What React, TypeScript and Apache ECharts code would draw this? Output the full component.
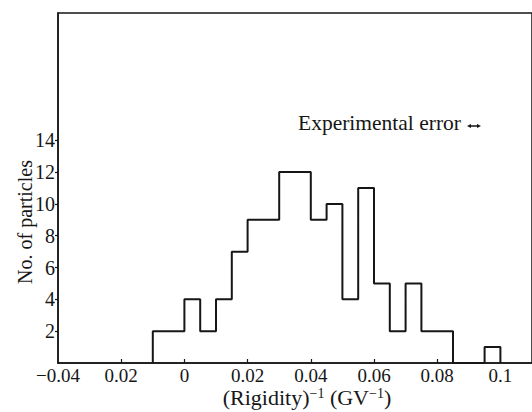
import React, { useEffect, useRef } from "react";
import * as echarts from "echarts";

// Histogram bin edges (GV^-1) and counts per bin
const binEdges = [
  -0.01, -0.005, 0, 0.005, 0.01, 0.015, 0.02, 0.025, 0.03, 0.035, 0.04, 0.045,
  0.05, 0.055, 0.06, 0.065, 0.07, 0.075, 0.08, 0.085, 0.09, 0.095, 0.1,
];
const counts = [2, 2, 4, 2, 4, 7, 9, 9, 12, 12, 9, 10, 4, 11, 5, 2, 5, 2, 2, 0, 0, 1];

const xTickValues = [-0.04, -0.02, 0, 0.02, 0.04, 0.06, 0.08, 0.1];
const xTickLabels = ["\u22120.04", "0.02", "0", "0.02", "0.04", "0.06", "0.08", "0.1"];
const xMarkValues = [-0.02, 0, 0.02, 0.04, 0.06, 0.08];
const yTickValues = [2, 4, 6, 8, 10, 12, 14];

const FONT = "Liberation Serif";
const INK = "#161616";

export default function App() {
  const ref = useRef<HTMLDivElement>(null);

  useEffect(() => {
    document.body.style.margin = "0";
    if (!ref.current) return;
    const chart = echarts.init(ref.current, undefined, { renderer: "svg" });

    const stepData: [number, number][] = [[binEdges[0], 0]];
    for (let i = 0; i < counts.length; i++) stepData.push([binEdges[i], counts[i]]);
    stepData.push([binEdges[binEdges.length - 1], 0]);

    chart.setOption({
      animation: false,
      backgroundColor: "#ffffff",
      grid: {
        left: 58,
        top: 13,
        right: -6,
        bottom: 49,
        show: true,
        borderColor: INK,
        borderWidth: 1.5,
      },
      xAxis: {
        type: "value",
        min: -0.04,
        max: 0.11,
        interval: 0.02,
        position: "bottom",
        splitLine: { show: false },
        axisLine: { show: true, onZero: false, lineStyle: { color: INK, width: 1.5 } },
        axisTick: {
          show: true,
          inside: true,
          length: 4,
          customValues: xMarkValues,
          lineStyle: { color: INK, width: 1.2 },
        },
        axisLabel: {
          customValues: xTickValues,
          fontFamily: FONT,
          fontSize: 19,
          color: INK,
          margin: 3,
          formatter: (v: number) => {
            const i = xTickValues.findIndex((t) => Math.abs(t - v) < 1e-9);
            return i >= 0 ? xTickLabels[i] : "";
          },
        },
      },
      yAxis: {
        type: "value",
        min: 0,
        max: 22,
        interval: 2,
        position: "left",
        splitLine: { show: false },
        axisLine: { show: true, onZero: false, lineStyle: { color: INK, width: 1.5 } },
        axisTick: {
          show: true,
          inside: false,
          length: 3,
          customValues: yTickValues,
          lineStyle: { color: INK, width: 1.2 },
        },
        axisLabel: {
          customValues: yTickValues,
          fontFamily: FONT,
          fontSize: 20,
          color: INK,
          margin: 3,
        },
      },
      series: [
        {
          type: "line",
          step: "end",
          data: stepData,
          symbol: "none",
          lineStyle: { color: INK, width: 2 },
          silent: true,
        },
      ],
      graphic: [
        {
          type: "text",
          x: 25,
          y: 222,
          rotation: Math.PI / 2,
          style: {
            text: "No. of particles",
            fontFamily: FONT,
            fontSize: 20,
            fill: INK,
            align: "center",
            verticalAlign: "middle",
          },
        },
        {
          type: "text",
          x: 307,
          y: 397,
          style: {
            text: "{a|(Rigidity)}{s|\u22121}{a| (GV}{s|\u22121}{a|)}",
            fontFamily: FONT,
            fill: INK,
            align: "center",
            verticalAlign: "middle",
            rich: {
              a: { fontFamily: FONT, fontSize: 22, fill: INK },
              s: { fontFamily: FONT, fontSize: 14, fill: INK, verticalAlign: "top" },
            },
          },
        },
        {
          type: "text",
          x: 298,
          y: 123,
          style: {
            text: "Experimental error",
            fontFamily: FONT,
            fontSize: 21.5,
            fill: INK,
            align: "left",
            verticalAlign: "middle",
          },
        },
        {
          type: "line",
          shape: { x1: 469, y1: 126, x2: 479, y2: 126 },
          style: { stroke: INK, lineWidth: 1.5 },
        },
        {
          type: "polygon",
          shape: { points: [[467, 126], [471, 124], [471, 128]] },
          style: { fill: INK },
        },
        {
          type: "polygon",
          shape: { points: [[481, 126], [477, 124], [477, 128]] },
          style: { fill: INK },
        },
      ],
    });

    return () => chart.dispose();
  }, []);

  return <div ref={ref} style={{ width: 532, height: 412 }} />;
}
